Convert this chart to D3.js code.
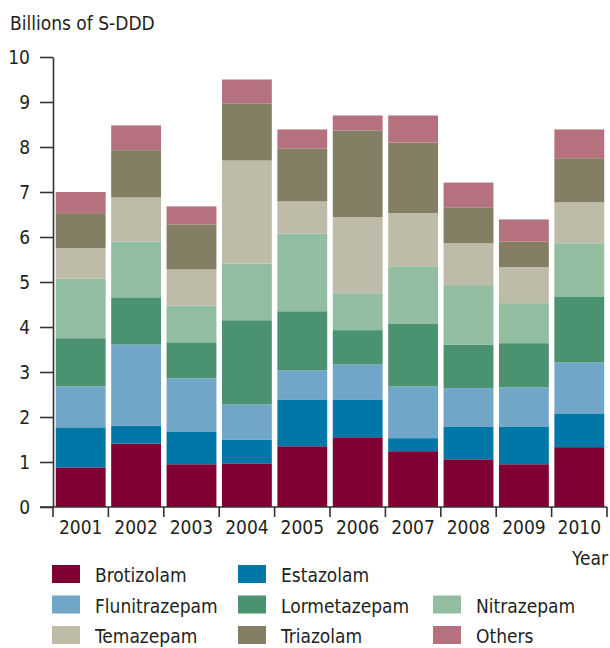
<!DOCTYPE html>
<html lang="en">

<head>
  <meta charset="UTF-8">
  <title>S-DDD by substance</title>
  <script src="https://d3js.org/d3.v7.min.js"></script>
  <style>
    body { margin: 0; background: #fff; }
    text { font-family: "Liberation Sans Narrow", "DejaVu Sans Condensed", "Roboto", sans-serif; fill: #231f20; }
  </style>
</head>

<body>
  <script>
    const years = ["2001", "2002", "2003", "2004", "2005", "2006", "2007", "2008", "2009", "2010"];
    const yTicks = [0, 1, 2, 3, 4, 5, 6, 7, 8, 9, 10];

    // billions of S-DDD per substance, one value per year
    const brotizolam = [0.88, 1.41, 0.95, 0.97, 1.35, 1.55, 1.24, 1.06, 0.95, 1.33];
    const estazolam = [0.89, 0.40, 0.73, 0.53, 1.04, 0.84, 0.29, 0.73, 0.84, 0.75];
    const flunitrazepam = [0.91, 1.80, 1.18, 0.78, 0.65, 0.78, 1.15, 0.85, 0.87, 1.13];
    const lormetazepam = [1.07, 1.05, 0.80, 1.87, 1.31, 0.76, 1.40, 0.97, 0.98, 1.47];
    const nitrazepam = [1.33, 1.24, 0.82, 1.26, 1.73, 0.82, 1.27, 1.32, 0.89, 1.18];
    const temazepam = [0.67, 0.98, 0.80, 2.29, 0.71, 1.69, 1.18, 0.93, 0.80, 0.91];
    const triazolam = [0.78, 1.05, 1.00, 1.27, 1.18, 1.93, 1.57, 0.80, 0.57, 0.98];
    const others = [0.47, 0.55, 0.40, 0.53, 0.42, 0.33, 0.60, 0.55, 0.49, 0.64];

    const seriesNames = ["Brotizolam", "Estazolam", "Flunitrazepam", "Lormetazepam",
      "Nitrazepam", "Temazepam", "Triazolam", "Others"];
    const seriesValues = [brotizolam, estazolam, flunitrazepam, lormetazepam,
      nitrazepam, temazepam, triazolam, others];
    const colors = ["#800033", "#0077a6", "#72a6c9", "#4a9270",
      "#93bda0", "#bebca8", "#847e64", "#b5717e"];

    const width = 610, height = 648;
    const plotLeft = 53, plotRight = 607, plotBottom = 507, plotTop = 57;
    const fontSize = 19;

    const svg = d3.select("body").append("svg")
      .attr("width", width)
      .attr("height", height);

    // rows for the stack
    const rows = years.map((yr, i) => {
      const r = { year: yr };
      seriesNames.forEach((s, j) => r[s] = seriesValues[j][i]);
      return r;
    });
    const stacked = d3.stack().keys(seriesNames)(rows);

    const x = d3.scaleBand()
      .domain(years)
      .range([plotLeft, plotRight])
      .paddingInner(0.1)
      .paddingOuter(0.05);

    const y = d3.scaleLinear()
      .domain([0, 10])
      .range([plotBottom, plotTop]);

    const color = d3.scaleOrdinal().domain(seriesNames).range(colors);

    svg.append("g")
      .selectAll("g")
      .data(stacked)
      .join("g")
      .attr("fill", d => color(d.key))
      .selectAll("rect")
      .data(d => d)
      .join("rect")
      .attr("x", d => x(d.data.year))
      .attr("width", x.bandwidth())
      .attr("y", d => y(d[1]))
      .attr("height", d => y(d[0]) - y(d[1]));

    // y axis
    const yAxis = svg.append("g")
      .attr("transform", `translate(${plotLeft},0)`)
      .call(d3.axisLeft(y).tickValues(yTicks).tickSize(13).tickPadding(10).tickSizeOuter(0));
    yAxis.attr("font-family", null);
    yAxis.select(".domain").attr("stroke", "#333").attr("stroke-width", 1.6);
    yAxis.selectAll(".tick line").attr("stroke", "#333").attr("stroke-width", 1.6);
    yAxis.selectAll(".tick text")
      .attr("font-size", fontSize)
      .attr("fill", "#231f20");

    // x axis: labels centred in bands, ticks on band edges
    const xAxis = svg.append("g")
      .attr("transform", `translate(0,${plotBottom})`)
      .call(d3.axisBottom(x).tickSize(0).tickPadding(12).tickSizeOuter(0));
    xAxis.attr("font-family", null);
    xAxis.select(".domain").attr("stroke", "#333").attr("stroke-width", 1.6)
      .attr("d", `M${plotLeft - 13},0H${plotRight}`);
    xAxis.selectAll(".tick text")
      .attr("font-size", fontSize)
      .attr("fill", "#231f20")
      .attr("dy", null)
      .attr("y", 27);

    const edges = years.map(yr => x(yr) - x.step() * x.paddingInner() / 2).concat([plotRight]);
    xAxis.selectAll("line.edge")
      .data(edges)
      .join("line")
      .attr("class", "edge")
      .attr("x1", d => d)
      .attr("x2", d => d)
      .attr("y1", 0)
      .attr("y2", 10)
      .attr("stroke", "#333")
      .attr("stroke-width", 1.6);

    // axis titles
    svg.append("text")
      .attr("x", 10)
      .attr("y", 30)
      .attr("font-size", fontSize)
      .text("Billions of S-DDD");

    svg.append("text")
      .attr("x", 608)
      .attr("y", 565)
      .attr("text-anchor", "end")
      .attr("font-size", fontSize)
      .text("Year");

    // legend, three columns, filled row by row
    const legendOrder = [
      { name: "Brotizolam", col: 0, row: 0 },
      { name: "Estazolam", col: 1, row: 0 },
      { name: "Flunitrazepam", col: 0, row: 1 },
      { name: "Lormetazepam", col: 1, row: 1 },
      { name: "Nitrazepam", col: 2, row: 1 },
      { name: "Temazepam", col: 0, row: 2 },
      { name: "Triazolam", col: 1, row: 2 },
      { name: "Others", col: 2, row: 2 }
    ];
    const colX = [52, 238, 433];
    const rowY = [565, 595.5, 626];

    const legend = svg.append("g")
      .selectAll("g")
      .data(legendOrder)
      .join("g")
      .attr("transform", d => `translate(${colX[d.col]},${rowY[d.row]})`);

    legend.append("rect")
      .attr("width", 28)
      .attr("height", 18)
      .attr("fill", d => color(d.name));

    legend.append("text")
      .attr("x", 43)
      .attr("y", 17)
      .attr("font-size", fontSize)
      .text(d => d.name);
  </script>
</body>

</html>
